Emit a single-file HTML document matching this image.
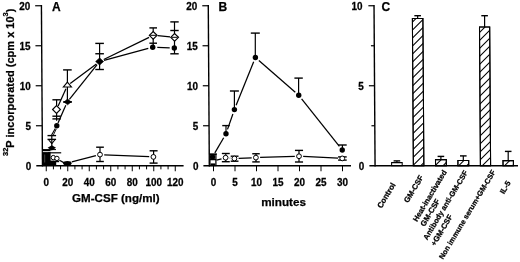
<!DOCTYPE html>
<html><head><meta charset="utf-8"><style>
html,body{margin:0;padding:0;background:#fff;}
svg{display:block;}
text{font-family:"Liberation Sans",Arial,sans-serif;font-weight:bold;fill:#000;stroke:#000;stroke-width:0.25px;}
</style></head><body>
<svg width="520" height="262" viewBox="0 0 520 262">
<defs><clipPath id="cb1"><polygon points="412.40,18.40 422.90,18.40 423.86,165.75 413.36,165.75"/></clipPath><clipPath id="cb2"><polygon points="435.50,159.60 446.30,159.60 446.34,165.75 435.54,165.75"/></clipPath><clipPath id="cb3"><polygon points="457.90,160.50 468.70,160.50 468.73,165.75 457.93,165.75"/></clipPath><clipPath id="cb4"><polygon points="479.50,26.90 489.70,26.90 490.60,165.75 480.40,165.75"/></clipPath><clipPath id="cb5"><polygon points="503.00,160.60 513.40,160.60 513.43,165.75 503.03,165.75"/></clipPath></defs>
<rect width="520" height="262" fill="#fff"/>
<line x1="41.42" y1="4.90" x2="42.47" y2="166.40" stroke="#000" stroke-width="1.4"/>
<line x1="35.17" y1="5.75" x2="41.42" y2="5.75" stroke="#000" stroke-width="1.2"/>
<line x1="35.43" y1="45.75" x2="41.68" y2="45.75" stroke="#000" stroke-width="1.2"/>
<line x1="35.69" y1="85.75" x2="41.94" y2="85.75" stroke="#000" stroke-width="1.2"/>
<line x1="35.95" y1="125.75" x2="42.20" y2="125.75" stroke="#000" stroke-width="1.2"/>
<text transform="translate(30.17,9.75) scale(1,1.1)" font-size="9.9" text-anchor="end" >20</text>
<text transform="translate(30.43,49.75) scale(1,1.1)" font-size="9.9" text-anchor="end" >15</text>
<text transform="translate(30.69,89.75) scale(1,1.1)" font-size="9.9" text-anchor="end" >10</text>
<text transform="translate(30.95,129.75) scale(1,1.1)" font-size="9.9" text-anchor="end" >5</text>
<text transform="translate(31.21,169.75) scale(1,1.1)" font-size="9.9" text-anchor="end" >0</text>
<line x1="36.30" y1="165.75" x2="183.60" y2="165.75" stroke="#000" stroke-width="1.4"/>
<line x1="46.25" y1="165.75" x2="46.25" y2="171.25" stroke="#000" stroke-width="1.0"/>
<line x1="53.42" y1="165.75" x2="53.42" y2="169.35" stroke="#000" stroke-width="1.0"/>
<line x1="60.58" y1="165.75" x2="60.58" y2="169.35" stroke="#000" stroke-width="1.0"/>
<line x1="67.75" y1="165.75" x2="67.75" y2="171.25" stroke="#000" stroke-width="1.0"/>
<line x1="74.92" y1="165.75" x2="74.92" y2="169.35" stroke="#000" stroke-width="1.0"/>
<line x1="82.08" y1="165.75" x2="82.08" y2="169.35" stroke="#000" stroke-width="1.0"/>
<line x1="89.25" y1="165.75" x2="89.25" y2="171.25" stroke="#000" stroke-width="1.0"/>
<line x1="96.42" y1="165.75" x2="96.42" y2="169.35" stroke="#000" stroke-width="1.0"/>
<line x1="103.58" y1="165.75" x2="103.58" y2="169.35" stroke="#000" stroke-width="1.0"/>
<line x1="110.75" y1="165.75" x2="110.75" y2="171.25" stroke="#000" stroke-width="1.0"/>
<line x1="117.92" y1="165.75" x2="117.92" y2="169.35" stroke="#000" stroke-width="1.0"/>
<line x1="125.08" y1="165.75" x2="125.08" y2="169.35" stroke="#000" stroke-width="1.0"/>
<line x1="132.25" y1="165.75" x2="132.25" y2="171.25" stroke="#000" stroke-width="1.0"/>
<line x1="139.42" y1="165.75" x2="139.42" y2="169.35" stroke="#000" stroke-width="1.0"/>
<line x1="146.58" y1="165.75" x2="146.58" y2="169.35" stroke="#000" stroke-width="1.0"/>
<line x1="153.75" y1="165.75" x2="153.75" y2="171.25" stroke="#000" stroke-width="1.0"/>
<line x1="160.92" y1="165.75" x2="160.92" y2="169.35" stroke="#000" stroke-width="1.0"/>
<line x1="168.08" y1="165.75" x2="168.08" y2="169.35" stroke="#000" stroke-width="1.0"/>
<line x1="175.25" y1="165.75" x2="175.25" y2="171.25" stroke="#000" stroke-width="1.0"/>
<text transform="translate(46.25,185.90) scale(1,1.12)" font-size="9.9" text-anchor="middle" >0</text>
<text transform="translate(67.75,185.90) scale(1,1.12)" font-size="9.9" text-anchor="middle" >20</text>
<text transform="translate(89.25,185.90) scale(1,1.12)" font-size="9.9" text-anchor="middle" >40</text>
<text transform="translate(110.75,185.90) scale(1,1.12)" font-size="9.9" text-anchor="middle" >60</text>
<text transform="translate(132.25,185.90) scale(1,1.12)" font-size="9.9" text-anchor="middle" >80</text>
<text transform="translate(153.75,185.90) scale(1,1.12)" font-size="9.9" text-anchor="middle" >100</text>
<text transform="translate(175.25,185.90) scale(1,1.12)" font-size="9.9" text-anchor="middle" >120</text>
<text x="115.80" y="201.90" font-size="11.6" text-anchor="middle" >GM-CSF (ng/ml)</text>
<text x="51.90" y="10.80" font-size="12" text-anchor="start" >A</text>
<line x1="208.27" y1="4.90" x2="209.32" y2="166.40" stroke="#000" stroke-width="1.4"/>
<line x1="202.27" y1="5.75" x2="208.27" y2="5.75" stroke="#000" stroke-width="1.2"/>
<line x1="202.53" y1="45.75" x2="208.53" y2="45.75" stroke="#000" stroke-width="1.2"/>
<line x1="202.79" y1="85.75" x2="208.79" y2="85.75" stroke="#000" stroke-width="1.2"/>
<line x1="203.05" y1="125.75" x2="209.05" y2="125.75" stroke="#000" stroke-width="1.2"/>
<text transform="translate(197.37,9.75) scale(1,1.1)" font-size="9.9" text-anchor="end" >20</text>
<text transform="translate(197.63,49.75) scale(1,1.1)" font-size="9.9" text-anchor="end" >15</text>
<text transform="translate(197.89,89.75) scale(1,1.1)" font-size="9.9" text-anchor="end" >10</text>
<text transform="translate(198.15,129.75) scale(1,1.1)" font-size="9.9" text-anchor="end" >5</text>
<text transform="translate(198.41,169.75) scale(1,1.1)" font-size="9.9" text-anchor="end" >0</text>
<line x1="203.40" y1="165.75" x2="351.00" y2="165.75" stroke="#000" stroke-width="1.4"/>
<line x1="213.50" y1="165.75" x2="213.50" y2="171.25" stroke="#000" stroke-width="1.0"/>
<text transform="translate(213.50,185.90) scale(1,1.12)" font-size="9.9" text-anchor="middle" >0</text>
<line x1="235.00" y1="165.75" x2="235.00" y2="171.25" stroke="#000" stroke-width="1.0"/>
<text transform="translate(235.00,185.90) scale(1,1.12)" font-size="9.9" text-anchor="middle" >5</text>
<line x1="256.50" y1="165.75" x2="256.50" y2="171.25" stroke="#000" stroke-width="1.0"/>
<text transform="translate(256.50,185.90) scale(1,1.12)" font-size="9.9" text-anchor="middle" >10</text>
<line x1="278.00" y1="165.75" x2="278.00" y2="171.25" stroke="#000" stroke-width="1.0"/>
<text transform="translate(278.00,185.90) scale(1,1.12)" font-size="9.9" text-anchor="middle" >15</text>
<line x1="299.50" y1="165.75" x2="299.50" y2="171.25" stroke="#000" stroke-width="1.0"/>
<text transform="translate(299.50,185.90) scale(1,1.12)" font-size="9.9" text-anchor="middle" >20</text>
<line x1="321.00" y1="165.75" x2="321.00" y2="171.25" stroke="#000" stroke-width="1.0"/>
<text transform="translate(321.00,185.90) scale(1,1.12)" font-size="9.9" text-anchor="middle" >25</text>
<line x1="342.50" y1="165.75" x2="342.50" y2="171.25" stroke="#000" stroke-width="1.0"/>
<text transform="translate(342.50,185.90) scale(1,1.12)" font-size="9.9" text-anchor="middle" >30</text>
<text x="283.60" y="205.60" font-size="11.7" text-anchor="middle" >minutes</text>
<text x="218.50" y="10.80" font-size="12" text-anchor="start" >B</text>
<line x1="374.02" y1="4.90" x2="375.07" y2="166.40" stroke="#000" stroke-width="1.4"/>
<line x1="368.37" y1="5.75" x2="374.02" y2="5.75" stroke="#000" stroke-width="1.2"/>
<line x1="368.89" y1="85.75" x2="374.54" y2="85.75" stroke="#000" stroke-width="1.2"/>
<line x1="370.93" y1="45.75" x2="374.28" y2="45.75" stroke="#000" stroke-width="1.2"/>
<line x1="371.45" y1="125.75" x2="374.80" y2="125.75" stroke="#000" stroke-width="1.2"/>
<text transform="translate(362.60,9.75) scale(1,1.1)" font-size="9.9" text-anchor="end" >10</text>
<text transform="translate(363.79,89.75) scale(1,1.1)" font-size="9.9" text-anchor="end" >5</text>
<text transform="translate(364.31,169.75) scale(1,1.1)" font-size="9.9" text-anchor="end" >0</text>
<text x="381.60" y="10.90" font-size="12" text-anchor="start" >C</text>
<line x1="396.90" y1="160.90" x2="396.90" y2="162.60" stroke="#000" stroke-width="1.2"/>
<line x1="393.60" y1="160.90" x2="400.20" y2="160.90" stroke="#000" stroke-width="1.4"/>
<polygon points="391.60,162.60 402.20,162.60 402.22,165.75 391.62,165.75" fill="#fff" stroke="#000" stroke-width="1.05"/>
<line x1="417.65" y1="15.70" x2="417.65" y2="18.40" stroke="#000" stroke-width="1.2"/>
<line x1="414.35" y1="15.70" x2="420.95" y2="15.70" stroke="#000" stroke-width="1.4"/>
<polygon points="412.40,18.40 422.90,18.40 423.86,165.75 413.36,165.75" fill="#fff" stroke="#000" stroke-width="1.05"/>
<g clip-path="url(#cb1)" stroke="#000" stroke-width="1.05"><line x1="410.40" y1="8.10" x2="425.90" y2="-7.40"/><line x1="410.40" y1="16.10" x2="425.90" y2="0.60"/><line x1="410.40" y1="24.10" x2="425.90" y2="8.60"/><line x1="410.40" y1="32.10" x2="425.90" y2="16.60"/><line x1="410.40" y1="40.10" x2="425.90" y2="24.60"/><line x1="410.40" y1="48.10" x2="425.90" y2="32.60"/><line x1="410.40" y1="56.10" x2="425.90" y2="40.60"/><line x1="410.40" y1="64.10" x2="425.90" y2="48.60"/><line x1="410.40" y1="72.10" x2="425.90" y2="56.60"/><line x1="410.40" y1="80.10" x2="425.90" y2="64.60"/><line x1="410.40" y1="88.10" x2="425.90" y2="72.60"/><line x1="410.40" y1="96.10" x2="425.90" y2="80.60"/><line x1="410.40" y1="104.10" x2="425.90" y2="88.60"/><line x1="410.40" y1="112.10" x2="425.90" y2="96.60"/><line x1="410.40" y1="120.10" x2="425.90" y2="104.60"/><line x1="410.40" y1="128.10" x2="425.90" y2="112.60"/><line x1="410.40" y1="136.10" x2="425.90" y2="120.60"/><line x1="410.40" y1="144.10" x2="425.90" y2="128.60"/><line x1="410.40" y1="152.10" x2="425.90" y2="136.60"/><line x1="410.40" y1="160.10" x2="425.90" y2="144.60"/><line x1="410.40" y1="168.10" x2="425.90" y2="152.60"/><line x1="410.40" y1="176.10" x2="425.90" y2="160.60"/><line x1="410.40" y1="184.10" x2="425.90" y2="168.60"/><line x1="410.40" y1="192.10" x2="425.90" y2="176.60"/></g>
<polygon points="412.40,18.40 422.90,18.40 423.86,165.75 413.36,165.75" fill="none" stroke="#000" stroke-width="1.05"/>
<line x1="440.90" y1="156.40" x2="440.90" y2="159.60" stroke="#000" stroke-width="1.2"/>
<line x1="437.60" y1="156.40" x2="444.20" y2="156.40" stroke="#000" stroke-width="1.4"/>
<polygon points="435.50,159.60 446.30,159.60 446.34,165.75 435.54,165.75" fill="#fff" stroke="#000" stroke-width="1.05"/>
<g clip-path="url(#cb2)" stroke="#000" stroke-width="1.05"><line x1="433.50" y1="151.30" x2="449.30" y2="135.50"/><line x1="433.50" y1="159.30" x2="449.30" y2="143.50"/><line x1="433.50" y1="167.30" x2="449.30" y2="151.50"/><line x1="433.50" y1="175.30" x2="449.30" y2="159.50"/><line x1="433.50" y1="183.30" x2="449.30" y2="167.50"/><line x1="433.50" y1="191.30" x2="449.30" y2="175.50"/></g>
<polygon points="435.50,159.60 446.30,159.60 446.34,165.75 435.54,165.75" fill="none" stroke="#000" stroke-width="1.05"/>
<line x1="463.30" y1="155.90" x2="463.30" y2="160.50" stroke="#000" stroke-width="1.2"/>
<line x1="460.00" y1="155.90" x2="466.60" y2="155.90" stroke="#000" stroke-width="1.4"/>
<polygon points="457.90,160.50 468.70,160.50 468.73,165.75 457.93,165.75" fill="#fff" stroke="#000" stroke-width="1.05"/>
<g clip-path="url(#cb3)" stroke="#000" stroke-width="1.05"><line x1="455.90" y1="152.50" x2="471.70" y2="136.70"/><line x1="455.90" y1="160.50" x2="471.70" y2="144.70"/><line x1="455.90" y1="168.50" x2="471.70" y2="152.70"/><line x1="455.90" y1="176.50" x2="471.70" y2="160.70"/><line x1="455.90" y1="184.50" x2="471.70" y2="168.70"/><line x1="455.90" y1="192.50" x2="471.70" y2="176.70"/></g>
<polygon points="457.90,160.50 468.70,160.50 468.73,165.75 457.93,165.75" fill="none" stroke="#000" stroke-width="1.05"/>
<line x1="484.60" y1="15.70" x2="484.60" y2="26.90" stroke="#000" stroke-width="1.2"/>
<line x1="481.30" y1="15.70" x2="487.90" y2="15.70" stroke="#000" stroke-width="1.4"/>
<polygon points="479.50,26.90 489.70,26.90 490.60,165.75 480.40,165.75" fill="#fff" stroke="#000" stroke-width="1.05"/>
<g clip-path="url(#cb4)" stroke="#000" stroke-width="1.05"><line x1="477.50" y1="18.50" x2="492.70" y2="3.30"/><line x1="477.50" y1="26.50" x2="492.70" y2="11.30"/><line x1="477.50" y1="34.50" x2="492.70" y2="19.30"/><line x1="477.50" y1="42.50" x2="492.70" y2="27.30"/><line x1="477.50" y1="50.50" x2="492.70" y2="35.30"/><line x1="477.50" y1="58.50" x2="492.70" y2="43.30"/><line x1="477.50" y1="66.50" x2="492.70" y2="51.30"/><line x1="477.50" y1="74.50" x2="492.70" y2="59.30"/><line x1="477.50" y1="82.50" x2="492.70" y2="67.30"/><line x1="477.50" y1="90.50" x2="492.70" y2="75.30"/><line x1="477.50" y1="98.50" x2="492.70" y2="83.30"/><line x1="477.50" y1="106.50" x2="492.70" y2="91.30"/><line x1="477.50" y1="114.50" x2="492.70" y2="99.30"/><line x1="477.50" y1="122.50" x2="492.70" y2="107.30"/><line x1="477.50" y1="130.50" x2="492.70" y2="115.30"/><line x1="477.50" y1="138.50" x2="492.70" y2="123.30"/><line x1="477.50" y1="146.50" x2="492.70" y2="131.30"/><line x1="477.50" y1="154.50" x2="492.70" y2="139.30"/><line x1="477.50" y1="162.50" x2="492.70" y2="147.30"/><line x1="477.50" y1="170.50" x2="492.70" y2="155.30"/><line x1="477.50" y1="178.50" x2="492.70" y2="163.30"/><line x1="477.50" y1="186.50" x2="492.70" y2="171.30"/><line x1="477.50" y1="194.50" x2="492.70" y2="179.30"/></g>
<polygon points="479.50,26.90 489.70,26.90 490.60,165.75 480.40,165.75" fill="none" stroke="#000" stroke-width="1.05"/>
<line x1="508.20" y1="151.40" x2="508.20" y2="160.60" stroke="#000" stroke-width="1.2"/>
<line x1="504.90" y1="151.40" x2="511.50" y2="151.40" stroke="#000" stroke-width="1.4"/>
<polygon points="503.00,160.60 513.40,160.60 513.43,165.75 503.03,165.75" fill="#fff" stroke="#000" stroke-width="1.05"/>
<g clip-path="url(#cb5)" stroke="#000" stroke-width="1.05"><line x1="501.00" y1="153.30" x2="516.40" y2="137.90"/><line x1="501.00" y1="161.30" x2="516.40" y2="145.90"/><line x1="501.00" y1="169.30" x2="516.40" y2="153.90"/><line x1="501.00" y1="177.30" x2="516.40" y2="161.90"/><line x1="501.00" y1="185.30" x2="516.40" y2="169.90"/><line x1="501.00" y1="193.30" x2="516.40" y2="177.90"/></g>
<polygon points="503.00,160.60 513.40,160.60 513.43,165.75 503.03,165.75" fill="none" stroke="#000" stroke-width="1.05"/>
<line x1="369.40" y1="165.75" x2="518.00" y2="165.75" stroke="#000" stroke-width="1.3"/>
<text transform="translate(381.40,208.80) rotate(-59)" font-size="7.9" text-anchor="start">Control</text>
<text transform="translate(408.10,203.30) rotate(-59)" font-size="7.7" text-anchor="start">GM-CSF</text>
<text transform="translate(416.90,222.30) rotate(-59)" font-size="7.6" text-anchor="start">Heat-inactivated</text>
<text transform="translate(424.60,226.90) rotate(-59)" font-size="7.7" text-anchor="start">GM-CSF</text>
<text transform="translate(427.20,240.40) rotate(-59)" font-size="7.45" text-anchor="start">Antibody anti-GM-CSF</text>
<text transform="translate(435.00,246.40) rotate(-59)" font-size="7.7" text-anchor="start">+GM-CSF</text>
<text transform="translate(443.00,259.80) rotate(-59)" font-size="7.4" text-anchor="start">Non immune serum+GM-CSF</text>
<text transform="translate(504.00,194.60) rotate(-59)" font-size="7.7" text-anchor="start">IL-5</text>
<text transform="translate(13.9,82.3) rotate(-90)" font-size="11" text-anchor="middle"><tspan font-size="7.5" dy="-6.3">32</tspan><tspan dy="6.3">P incorporated (cpm x 10</tspan><tspan font-size="7.5" dy="-6.3">3</tspan><tspan dy="6.3">)</tspan></text>
<rect x="42.40" y="149.60" width="8.20" height="16.15" fill="#000" stroke="none" stroke-width="0"/>
<line x1="42.90" y1="151.60" x2="51.50" y2="151.60" stroke="#fff" stroke-width="0.9"/>
<line x1="48.00" y1="152.80" x2="61.20" y2="152.80" stroke="#000" stroke-width="1.2"/>
<rect x="44.20" y="154.50" width="1.00" height="8.00" fill="#444" stroke="none" stroke-width="0"/>
<line x1="51.80" y1="135.60" x2="51.80" y2="148.00" stroke="#000" stroke-width="1.2"/>
<line x1="47.50" y1="135.60" x2="56.10" y2="135.60" stroke="#000" stroke-width="1.4"/>
<line x1="47.50" y1="139.40" x2="56.10" y2="139.40" stroke="#000" stroke-width="1.4"/>
<line x1="51.60" y1="135.00" x2="55.32" y2="128.41" stroke="#000" stroke-width="1.15"/>
<line x1="53.30" y1="135.20" x2="56.28" y2="128.95" stroke="#000" stroke-width="0.9"/>
<polyline points="48.8,140.0 51.8,143.6 54.8,140.0" fill="none" stroke="#000" stroke-width="1.1"/>
<polygon points="47.6,147.8 51.8,145.2 56.0,147.8 51.8,150.4" fill="#000"/>
<line x1="43.00" y1="149.60" x2="56.00" y2="149.60" stroke="#000" stroke-width="1.0"/>
<line x1="56.60" y1="99.80" x2="56.60" y2="120.80" stroke="#000" stroke-width="1.2"/>
<line x1="52.40" y1="99.80" x2="60.80" y2="99.80" stroke="#000" stroke-width="1.4"/>
<line x1="52.40" y1="116.20" x2="60.80" y2="116.20" stroke="#000" stroke-width="1.4"/>
<line x1="52.40" y1="118.90" x2="60.80" y2="118.90" stroke="#000" stroke-width="1.4"/>
<line x1="58.16" y1="106.04" x2="65.96" y2="88.79" stroke="#000" stroke-width="1.25"/>
<line x1="58.00" y1="123.05" x2="65.80" y2="105.21" stroke="#000" stroke-width="1.25"/>
<polygon points="52.60,109.50 56.50,105.60 60.40,109.50 56.50,113.40" fill="#fff" stroke="#000" stroke-width="1.15"/>
<circle cx="56.80" cy="125.70" r="2.70" fill="#000"/>
<rect x="49.60" y="162.00" width="6.60" height="3.70" fill="#000" stroke="none" stroke-width="0"/>
<line x1="59.40" y1="160.20" x2="64.30" y2="162.90" stroke="#000" stroke-width="1.3"/>
<rect x="49.60" y="160.60" width="9.50" height="1.60" fill="#000" stroke="none" stroke-width="0"/>
<circle cx="53.30" cy="157.60" r="2.20" fill="#fff" stroke="#000" stroke-width="1.0"/>
<circle cx="56.90" cy="158.40" r="2.20" fill="#fff" stroke="#000" stroke-width="1.0"/>
<line x1="67.40" y1="69.90" x2="67.40" y2="102.00" stroke="#000" stroke-width="1.2"/>
<line x1="63.10" y1="69.90" x2="71.70" y2="69.90" stroke="#000" stroke-width="1.4"/>
<line x1="63.10" y1="102.00" x2="71.70" y2="102.00" stroke="#000" stroke-width="1.4"/>
<polygon points="67.40,82.20 71.40,87.00 63.40,87.00" fill="#fff" stroke="#000" stroke-width="1.15"/>
<polygon points="64.00,101.90 67.60,99.00 71.20,101.90 67.60,104.80" fill="#000" stroke="#000" stroke-width="0.6"/>
<line x1="63.60" y1="101.90" x2="72.00" y2="101.90" stroke="#000" stroke-width="1.2"/>
<ellipse cx="67.4" cy="163.3" rx="4.2" ry="2.3" fill="#000"/>
<line x1="71.77" y1="161.90" x2="95.93" y2="155.65" stroke="#000" stroke-width="1.25"/>
<line x1="104.20" y1="154.78" x2="149.20" y2="156.72" stroke="#000" stroke-width="1.25"/>
<line x1="99.60" y1="43.40" x2="99.60" y2="69.50" stroke="#000" stroke-width="1.2"/>
<line x1="95.30" y1="43.40" x2="103.90" y2="43.40" stroke="#000" stroke-width="1.4"/>
<line x1="95.30" y1="53.75" x2="103.90" y2="53.75" stroke="#000" stroke-width="1.4"/>
<line x1="95.30" y1="69.50" x2="103.90" y2="69.50" stroke="#000" stroke-width="1.4"/>
<line x1="70.20" y1="83.50" x2="96.40" y2="63.90" stroke="#000" stroke-width="1.25"/>
<line x1="69.39" y1="99.27" x2="97.10" y2="64.62" stroke="#000" stroke-width="1.25"/>
<line x1="103.73" y1="59.48" x2="149.07" y2="37.32" stroke="#000" stroke-width="1.25"/>
<line x1="104.04" y1="60.30" x2="148.26" y2="48.40" stroke="#000" stroke-width="1.25"/>
<polygon points="95.60,61.50 99.60,57.90 103.60,61.50 99.60,65.10" fill="#000" stroke="#000" stroke-width="0.6"/>
<line x1="100.00" y1="147.20" x2="100.00" y2="161.50" stroke="#000" stroke-width="1.2"/>
<line x1="96.15" y1="147.20" x2="103.85" y2="147.20" stroke="#000" stroke-width="1.4"/>
<line x1="96.15" y1="161.50" x2="103.85" y2="161.50" stroke="#000" stroke-width="1.4"/>
<circle cx="100.00" cy="154.60" r="2.40" fill="#fff" stroke="#000" stroke-width="1.0"/>
<line x1="153.20" y1="27.90" x2="153.20" y2="47.20" stroke="#000" stroke-width="1.2"/>
<line x1="149.40" y1="27.90" x2="157.00" y2="27.90" stroke="#000" stroke-width="1.4"/>
<line x1="149.40" y1="43.20" x2="157.00" y2="43.20" stroke="#000" stroke-width="1.4"/>
<line x1="157.78" y1="35.73" x2="170.02" y2="36.87" stroke="#000" stroke-width="1.25"/>
<line x1="157.30" y1="47.37" x2="169.70" y2="47.83" stroke="#000" stroke-width="1.25"/>
<polygon points="149.30,35.30 153.20,31.50 157.10,35.30 153.20,39.10" fill="#fff" stroke="#000" stroke-width="1.15"/>
<line x1="150.20" y1="35.30" x2="156.20" y2="35.30" stroke="#000" stroke-width="1.0"/>
<circle cx="152.70" cy="47.20" r="2.70" fill="#000"/>
<line x1="153.60" y1="150.80" x2="153.60" y2="163.10" stroke="#000" stroke-width="1.2"/>
<line x1="149.60" y1="150.80" x2="157.60" y2="150.80" stroke="#000" stroke-width="1.4"/>
<line x1="149.60" y1="163.10" x2="157.60" y2="163.10" stroke="#000" stroke-width="1.4"/>
<circle cx="153.40" cy="156.90" r="2.40" fill="#fff" stroke="#000" stroke-width="1.0"/>
<line x1="174.50" y1="21.90" x2="174.50" y2="53.80" stroke="#000" stroke-width="1.2"/>
<line x1="170.30" y1="21.90" x2="178.70" y2="21.90" stroke="#000" stroke-width="1.4"/>
<line x1="170.30" y1="30.50" x2="178.70" y2="30.50" stroke="#000" stroke-width="1.4"/>
<line x1="170.30" y1="53.80" x2="178.70" y2="53.80" stroke="#000" stroke-width="1.4"/>
<polygon points="170.70,37.30 174.60,33.50 178.50,37.30 174.60,41.10" fill="#fff" stroke="#000" stroke-width="1.15"/>
<line x1="171.60" y1="37.30" x2="177.60" y2="37.30" stroke="#000" stroke-width="1.0"/>
<circle cx="174.30" cy="48.00" r="2.70" fill="#000"/>
<line x1="214.82" y1="152.93" x2="223.68" y2="137.72" stroke="#000" stroke-width="1.25"/>
<line x1="227.51" y1="129.41" x2="232.89" y2="113.94" stroke="#000" stroke-width="1.25"/>
<line x1="236.12" y1="105.33" x2="253.68" y2="61.77" stroke="#000" stroke-width="1.25"/>
<line x1="258.87" y1="60.52" x2="295.28" y2="92.23" stroke="#000" stroke-width="1.25"/>
<line x1="301.61" y1="98.85" x2="339.39" y2="146.40" stroke="#000" stroke-width="1.25"/>
<line x1="216.55" y1="160.19" x2="221.55" y2="158.81" stroke="#000" stroke-width="1.25"/>
<line x1="229.78" y1="158.08" x2="230.22" y2="158.12" stroke="#000" stroke-width="1.25"/>
<line x1="238.60" y1="158.32" x2="251.70" y2="157.78" stroke="#000" stroke-width="1.25"/>
<line x1="260.10" y1="157.47" x2="294.80" y2="156.38" stroke="#000" stroke-width="1.25"/>
<line x1="303.19" y1="156.46" x2="338.06" y2="158.19" stroke="#000" stroke-width="1.25"/>
<line x1="226.00" y1="125.60" x2="226.00" y2="133.75" stroke="#000" stroke-width="1.2"/>
<line x1="222.25" y1="125.60" x2="229.75" y2="125.60" stroke="#000" stroke-width="1.4"/>
<line x1="234.40" y1="91.00" x2="234.40" y2="109.60" stroke="#000" stroke-width="1.2"/>
<line x1="229.90" y1="91.00" x2="238.90" y2="91.00" stroke="#000" stroke-width="1.4"/>
<line x1="255.30" y1="33.10" x2="255.30" y2="57.50" stroke="#000" stroke-width="1.2"/>
<line x1="250.80" y1="33.10" x2="259.80" y2="33.10" stroke="#000" stroke-width="1.4"/>
<line x1="298.60" y1="78.10" x2="298.60" y2="95.25" stroke="#000" stroke-width="1.2"/>
<line x1="294.40" y1="78.10" x2="302.80" y2="78.10" stroke="#000" stroke-width="1.4"/>
<line x1="342.40" y1="145.00" x2="342.40" y2="150.00" stroke="#000" stroke-width="1.2"/>
<line x1="338.10" y1="145.00" x2="346.70" y2="145.00" stroke="#000" stroke-width="1.4"/>
<rect x="209.9" y="154.3" width="6.0" height="11.2" fill="#fff" stroke="#000" stroke-width="1.25"/>
<line x1="209.40" y1="154.10" x2="217.00" y2="154.10" stroke="#000" stroke-width="1.2"/>
<line x1="209.60" y1="159.60" x2="216.20" y2="159.60" stroke="#000" stroke-width="1.3"/>
<rect x="210.60" y="163.40" width="4.60" height="2.40" fill="#000" stroke="none" stroke-width="0"/>
<circle cx="212.50" cy="156.90" r="2.70" fill="#000"/>
<circle cx="226.00" cy="133.75" r="2.70" fill="#000"/>
<circle cx="234.40" cy="109.60" r="2.70" fill="#000"/>
<circle cx="255.40" cy="57.50" r="2.70" fill="#000"/>
<circle cx="298.75" cy="95.25" r="2.70" fill="#000"/>
<circle cx="342.25" cy="150.00" r="2.70" fill="#000"/>
<line x1="225.80" y1="153.50" x2="225.80" y2="161.70" stroke="#000" stroke-width="1.2"/>
<line x1="221.85" y1="153.50" x2="229.75" y2="153.50" stroke="#000" stroke-width="1.4"/>
<line x1="221.85" y1="161.70" x2="229.75" y2="161.70" stroke="#000" stroke-width="1.4"/>
<line x1="234.60" y1="156.20" x2="234.60" y2="161.20" stroke="#000" stroke-width="1.2"/>
<line x1="230.70" y1="156.20" x2="238.50" y2="156.20" stroke="#000" stroke-width="1.4"/>
<line x1="230.70" y1="161.20" x2="238.50" y2="161.20" stroke="#000" stroke-width="1.4"/>
<line x1="256.00" y1="153.75" x2="256.00" y2="161.90" stroke="#000" stroke-width="1.2"/>
<line x1="252.25" y1="153.75" x2="259.75" y2="153.75" stroke="#000" stroke-width="1.4"/>
<line x1="252.25" y1="161.90" x2="259.75" y2="161.90" stroke="#000" stroke-width="1.4"/>
<line x1="299.00" y1="150.40" x2="299.00" y2="162.00" stroke="#000" stroke-width="1.2"/>
<line x1="294.95" y1="150.40" x2="303.05" y2="150.40" stroke="#000" stroke-width="1.4"/>
<line x1="294.95" y1="162.00" x2="303.05" y2="162.00" stroke="#000" stroke-width="1.4"/>
<line x1="342.40" y1="156.90" x2="342.40" y2="160.10" stroke="#000" stroke-width="1.2"/>
<line x1="338.10" y1="156.90" x2="346.70" y2="156.90" stroke="#000" stroke-width="1.4"/>
<line x1="338.10" y1="160.10" x2="346.70" y2="160.10" stroke="#000" stroke-width="1.4"/>
<circle cx="225.60" cy="157.70" r="2.40" fill="#fff" stroke="#000" stroke-width="1.0"/>
<circle cx="234.40" cy="158.50" r="2.40" fill="#fff" stroke="#000" stroke-width="1.0"/>
<circle cx="255.90" cy="157.60" r="2.40" fill="#fff" stroke="#000" stroke-width="1.0"/>
<circle cx="299.00" cy="156.25" r="2.40" fill="#fff" stroke="#000" stroke-width="1.0"/>
<circle cx="342.25" cy="158.40" r="2.40" fill="#fff" stroke="#000" stroke-width="1.0"/>
<circle cx="212.80" cy="157.00" r="2.20" fill="#000"/>
</svg></body></html>
